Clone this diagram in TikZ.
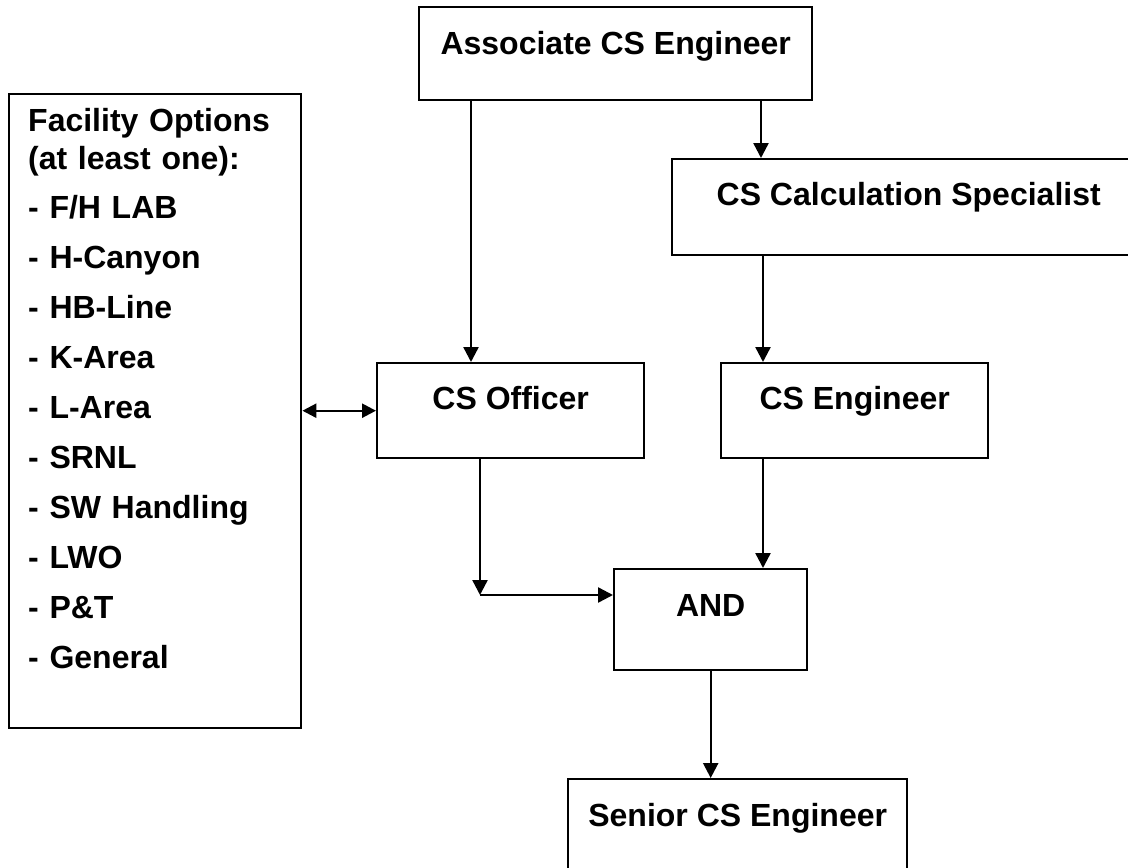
\documentclass[tikz,border=0pt]{standalone}
\usepackage{fontspec}
\setmainfont{Liberation Sans}
\usetikzlibrary{arrows.meta}
\begin{document}
\begin{tikzpicture}[x=1pt,y=-1pt,
  lbl/.style={font=\fontsize{32}{38}\selectfont\bfseries},
  box/.style={draw, line width=2.4pt, inner sep=0pt, anchor=north west, lbl},
  arr/.style={line width=2.4pt, -{Triangle[length=15pt,width=15pt]}},
  darr/.style={line width=2.4pt, {Triangle[length=14pt,width=14pt]}-{Triangle[length=14pt,width=14pt]}}]
\useasboundingbox (0,0) rectangle (1128,868);
\clip (0,0) rectangle (1128,868);

\node[box, minimum width=393pt, minimum height=93pt, text height=47pt, text depth=46pt] (assoc) at (418,6) {Associate CS Engineer};
\node[box, minimum width=473pt, minimum height=96pt, text height=46pt, text depth=50pt] (calc) at (671,158) {CS Calculation Specialist};
\node[box, minimum width=267pt, minimum height=95pt, text height=46pt, text depth=49pt] (officer) at (376,362) {CS Officer};
\node[box, minimum width=267pt, minimum height=95pt, text height=46pt, text depth=49pt] (cseng) at (720,362) {CS Engineer};
\node[box, minimum width=193pt, minimum height=101pt, text height=47pt, text depth=54pt] (andbox) at (613,568) {AND};
\node[box, minimum width=339pt, minimum height=97pt, text height=47pt, text depth=50pt] (senior) at (567,778) {Senior CS Engineer};
\node[box, minimum width=292pt, minimum height=634pt] (fac) at (8,93) {};
\node[lbl, anchor=base west, text width=262pt, inner sep=0pt, align=left] (factext) at (28,131)
  {Facility Options\\(at least one):\\[11pt]- F/H LAB\\[12pt]- H-Canyon\\[12pt]- HB-Line\\[12pt]- K-Area\\[12pt]- L-Area\\[12pt]- SRNL\\[12pt]- SW Handling\\[12pt]- LWO\\[12pt]- P\&T\\[12pt]- General};

\coordinate (j) at (480,595);

\draw[arr] ([xshift=53pt]assoc.south west) -- ([xshift=53pt]assoc.south west |- officer.north);
\draw[arr] ([xshift=343pt]assoc.south west) -- ([xshift=343pt]assoc.south west |- calc.north);
\draw[arr] ([xshift=92pt]calc.south west) -- ([xshift=92pt]calc.south west |- cseng.north);
\draw[arr] ([xshift=43pt]cseng.south west) -- ([xshift=43pt]cseng.south west |- andbox.north);
\draw[arr] (officer.south -| j) -- (j);
\draw[arr] (j) -- (j -| andbox.west);
\draw[darr] (officer.west) -- (officer.west -| fac.east);
\draw[arr] (andbox.south) -- (andbox.south |- senior.north);
\end{tikzpicture}
\end{document}
